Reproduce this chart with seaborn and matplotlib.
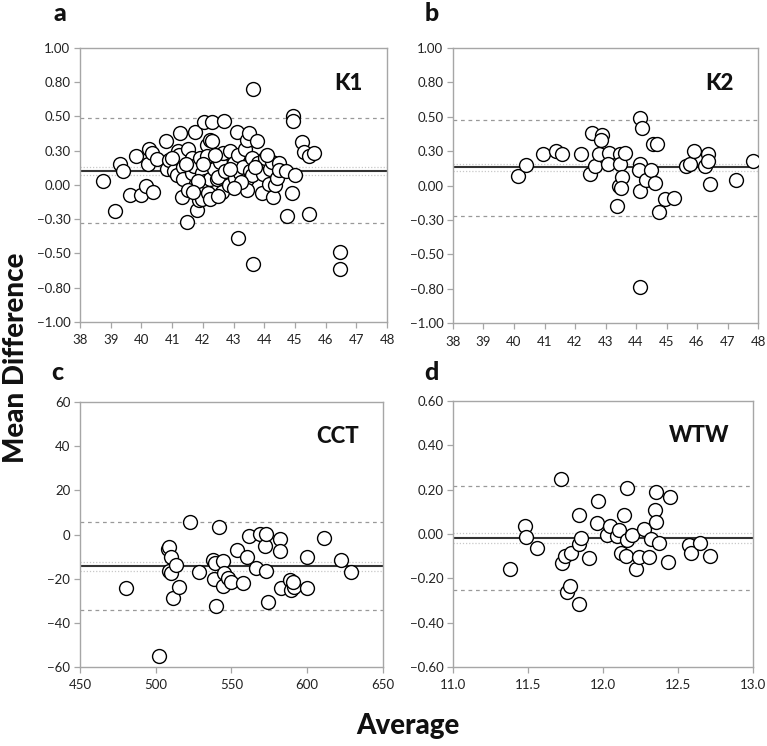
import matplotlib
matplotlib.use("Agg")
import matplotlib.pyplot as plt
import seaborn as sns

# ---- data (Bland-Altman panels) ----
k1_avg = [38.74, 39.14, 39.30, 39.41, 39.63, 39.83, 39.98, 40.15, 40.21, 40.26,
          40.34, 40.39, 40.50, 40.79, 40.83, 40.91, 41.05, 41.15, 41.20, 41.26,
          41.24, 41.31, 41.35, 41.37, 41.50, 41.53, 41.53, 41.64, 41.64, 41.72,
          41.75, 41.80, 41.86, 41.91, 41.97, 41.97, 42.04, 42.08, 42.13, 42.13,
          42.18, 42.22, 42.24, 42.24, 42.29, 42.29, 42.35, 42.46, 42.51, 42.55,
          42.62, 42.67, 42.70, 42.72, 42.84, 42.89, 43.00, 43.05, 43.10, 43.13,
          43.16, 43.20, 43.30, 43.38, 43.43, 43.43, 43.43, 43.49, 43.55, 43.60,
          43.60, 43.65, 43.62, 43.76, 43.81, 43.92, 43.95, 44.03, 44.14, 44.20,
          44.25, 44.30, 44.36, 44.41, 44.47, 44.47, 44.71, 44.74, 44.90, 44.95,
          44.95, 45.01, 45.23, 45.30, 45.45, 45.47, 45.62, 46.46, 46.48, 41.00,
          41.45, 41.85, 42.00, 42.40, 42.90, 43.25, 43.70, 44.10, 42.50, 41.68,
          43.00]
k1_diff = [0.03, -0.19, 0.15, 0.10, -0.07, 0.21, -0.07, -0.01, 0.15, 0.26,
           0.23, -0.05, 0.19, 0.32, 0.12, 0.18, 0.10, 0.07, 0.25, 0.38,
           0.22, -0.09, 0.13, 0.04, -0.27, -0.04, 0.26, 0.09, 0.20, 0.14,
           0.39, -0.18, -0.11, 0.20, 0.085, -0.10, 0.46, 0.03, 0.29, 0.21,
           -0.06, 0.33, 0.04, -0.10, 0.46, 0.32, 0.12, 0.04, 0.06, 0.17,
           -0.05, 0.23, 0.47, 0.10, 0.00, 0.25, 0.16, 0.05, 0.39, -0.39,
           0.22, 0.09, 0.13, 0.26, 0.33, 0.04, -0.04, 0.38, 0.10, 0.20,
           0.07, 0.70, -0.58, 0.32, 0.16, -0.06, 0.08, 0.20, 0.01, 0.12,
           0.17, -0.085, 0.00, 0.05, 0.16, 0.11, 0.10, -0.23, -0.06, 0.50,
           0.465, 0.07, 0.31, 0.24, 0.21, -0.21, 0.23, -0.49, -0.61, 0.20,
           0.15, 0.03, 0.15, 0.22, 0.12, 0.02, 0.13, 0.22, -0.08, -0.05,
           -0.02]

k2_avg = [40.13, 40.40, 40.95, 41.39, 41.58, 42.21, 42.48, 42.56, 42.67, 42.78,
          42.90, 42.86, 43.11, 43.08, 43.38, 43.44, 43.49, 43.49, 43.55, 43.63,
          43.52, 44.12, 44.20, 44.14, 44.09, 44.12, 44.14, 44.34, 44.50, 44.56,
          44.70, 44.61, 44.75, 44.94, 45.24, 45.63, 45.76, 45.89, 46.25, 46.36,
          46.36, 46.44, 47.29, 47.84]
k2_diff = [0.07, 0.15, 0.23, 0.25, 0.23, 0.23, 0.085, 0.38, 0.14, 0.23,
           0.37, 0.33, 0.24, 0.16, -0.15, 0.00, 0.23, 0.16, 0.06, 0.24,
           -0.02, 0.49, 0.42, 0.16, 0.11, -0.04, -0.74, 0.04, 0.11, 0.30,
           0.30, 0.02, -0.19, -0.10, -0.09, 0.14, 0.16, 0.25, 0.14, 0.23,
           0.18, 0.01, 0.04, 0.18]

cct_avg = [480.3, 502.3, 508.2, 508.7, 509.8, 508.7, 509.8, 513.7, 511.5, 515.3,
           522.5, 528.5, 537.5, 539.0, 538.6, 540.1, 541.6, 544.5, 545.0, 544.5,
           547.8, 549.6, 553.7, 557.3, 560.3, 561.6, 566.5, 569.1, 572.0, 572.6,
           573.1, 574.2, 581.9, 581.9, 582.5, 588.5, 589.1, 591.1, 590.7, 599.9,
           599.9, 610.9, 622.5, 628.7]
cct_diff = [-24.3, -54.9, -6.7, -5.8, -10.3, -16.3, -17.5, -13.8, -28.8, -23.6,
            5.5, -16.8, -11.5, -13.0, -20.1, -32.6, 3.2, -12.0, -17.5, -23.1,
            -19.5, -21.6, -7.0, -21.8, -10.0, -0.5, -15.3, 0.2, -5.2, -16.3,
            0.2, -30.4, -2.2, -7.5, -24.3, -20.6, -25.1, -23.6, -21.3, -10.0,
            -24.3, -1.7, -11.5, -17.2]

wtw_avg = [11.383, 11.479, 11.486, 11.563, 11.717, 11.728, 11.750, 11.786, 11.762, 11.780,
           11.840, 11.840, 11.840, 11.853, 11.906, 11.958, 11.969, 12.024, 12.047, 12.091,
           12.109, 12.118, 12.143, 12.154, 12.158, 12.163, 12.196, 12.218, 12.243, 12.274,
           12.310, 12.318, 12.347, 12.354, 12.354, 12.376, 12.432, 12.448, 12.575, 12.586,
           12.644, 12.715]
wtw_diff = [-0.157, 0.038, -0.012, -0.065, 0.248, -0.129, -0.099, -0.087, -0.263, -0.234,
            -0.315, 0.086, -0.045, -0.017, -0.110, 0.051, 0.149, -0.005, 0.038, -0.008,
            0.018, -0.087, 0.086, -0.099, -0.027, 0.206, -0.005, -0.157, -0.105, 0.021,
            -0.105, -0.023, 0.108, 0.188, 0.053, -0.042, -0.128, 0.165, -0.050, -0.084,
            -0.039, -0.098]

# mean bias, limits of agreement, CI of the bias
k1_lines = [0.104, 0.489, -0.275, 0.130, 0.075]
k2_lines = [0.133, 0.480, -0.218, 0.158, 0.104]
cct_lines = [-14.2, 5.8, -34.1, -12.3, -16.3]
wtw_lines = [-0.0195, 0.216, -0.252, 0.003, -0.039]

# K1/K2 axes run -1..1 in 0.25 steps, but the labels are printed rounded
k_yticks = [-1.0, -0.75, -0.5, -0.25, 0.0, 0.25, 0.5, 0.75, 1.0]
k_ylabels = ["\u22121.00", "\u22120.80", "\u22120.50", "\u22120.30", "0.00",
             "0.30", "0.50", "0.80", "1.00"]
k_xticks = [38, 39, 40, 41, 42, 43, 44, 45, 46, 47, 48]
cct_yticks = [-60, -40, -20, 0, 20, 40, 60]
cct_ylabels = ["\u221260", "\u221240", "\u221220", "0", "20", "40", "60"]
cct_xticks = [450, 500, 550, 600, 650]
wtw_yticks = [-0.6, -0.4, -0.2, 0.0, 0.2, 0.4, 0.6]
wtw_ylabels = ["\u22120.60", "\u22120.40", "\u22120.20", "0.00", "0.20", "0.40", "0.60"]
wtw_xticks = [11.0, 11.5, 12.0, 12.5, 13.0]
wtw_xlabels = ["11.0", "11.5", "12.0", "12.5", "13.0"]

sns.set_style("white")
plt.rcParams['font.family'] = ['Lato', 'DejaVu Sans']

fig = plt.figure(figsize=(7.67, 7.46), dpi=100)

panels = [
    # rect, x, y, lines, xlim, ylim, xticks, xlabels, yticks, ylabels, name, letter, letter pos
    ([0.1043, 0.5684, 0.4003, 0.3673], k1_avg, k1_diff, k1_lines, (38, 48), (-1, 1),
     k_xticks, [str(t) for t in k_xticks], k_yticks, k_ylabels, "K1", "a", (0.078, 0.982)),
    ([0.5906, 0.5670, 0.3977, 0.3686], k2_avg, k2_diff, k2_lines, (38, 48), (-1, 1),
     k_xticks, [str(t) for t in k_xticks], k_yticks, k_ylabels, "K2", "b", (0.563, 0.982)),
    ([0.1043, 0.1059, 0.3950, 0.3552], cct_avg, cct_diff, cct_lines, (450, 650), (-60, 60),
     cct_xticks, [str(t) for t in cct_xticks], cct_yticks, cct_ylabels, "CCT", "c", (0.075, 0.500)),
    ([0.5906, 0.1059, 0.3911, 0.3566], wtw_avg, wtw_diff, wtw_lines, (11, 13), (-0.6, 0.6),
     wtw_xticks, wtw_xlabels, wtw_yticks, wtw_ylabels, "WTW", "d", (0.563, 0.500)),
]

spine_col = '#a6a6a6'

for rect, xs, ys, lines, xlim, ylim, xt, xl, yt, yl, name, letter, lpos in panels:
    ax = fig.add_axes(rect)
    mean, upper, lower, ci_hi, ci_lo = lines
    for lv in (ci_hi, ci_lo):
        ax.axhline(lv, color='#c8c8c8', lw=0.9, ls=(0, (1, 1.5)), zorder=1)
    for lv in (upper, lower):
        ax.axhline(lv, color='#999999', lw=0.9, ls=(0, (3, 3)), zorder=1)
    ax.axhline(mean, color='#333333', lw=1.5, zorder=1)

    sns.scatterplot(x=xs, y=ys, ax=ax, s=100, facecolor='white', edgecolor='black',
                    linewidth=1.0, zorder=3, legend=False)

    ax.set_xlim(*xlim)
    ax.set_ylim(*ylim)
    ax.set_xticks(xt)
    ax.set_xticklabels(xl)
    ax.set_yticks(yt)
    ax.set_yticklabels(yl)
    ax.tick_params(axis='both', labelsize=9.5, colors=spine_col, labelcolor='#222222',
                   length=4, width=0.9, direction='out', pad=3,
                   bottom=True, left=True)
    ax.tick_params(axis='x', pad=5)
    for sp in ax.spines.values():
        sp.set_color(spine_col)
        sp.set_linewidth(1.0)
    ax.text(0.92, 0.87, name, transform=ax.transAxes, ha='right', va='center',
            fontsize=16, fontweight='black', color='#111111')
    fig.text(lpos[0], lpos[1], letter, ha='center', va='center',
             fontsize=18, fontweight='black', color='#111111')

fig.text(0.021, 0.521, "Mean Difference", rotation=90, ha='center', va='center',
         fontsize=20, fontweight='black', color='#111111')
fig.text(0.532, 0.027, "Average", ha='center', va='center',
         fontsize=20, fontweight='black', color='#111111')

fig.savefig("out.png", dpi=100)
